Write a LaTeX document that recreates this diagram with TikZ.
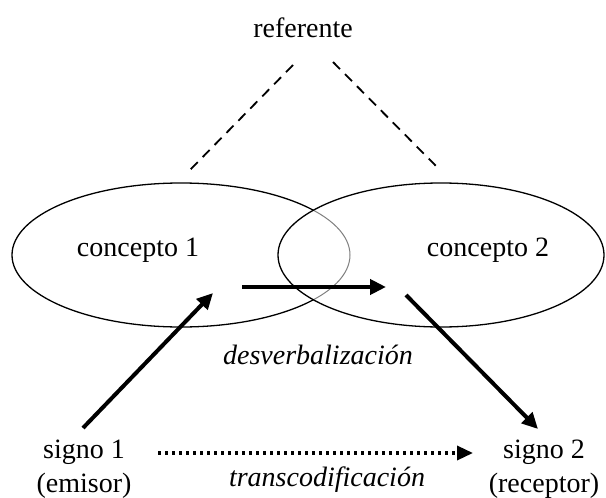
\documentclass[tikz,border=0pt]{standalone}
\usepackage{fontspec}
\setmainfont{Liberation Serif}
\usetikzlibrary{arrows.meta}
\begin{document}
\begin{tikzpicture}[x=1pt, y=-1pt, font=\fontsize{28}{34}\selectfont,
  elipse/.style={line width=1.3pt},
  flecha/.style={line width=4pt, -{Triangle[length=16pt,width=15pt]}},
  punteada/.style={line width=3.4pt, dash pattern=on 3pt off 4pt,
    -{Triangle[length=16pt,width=14pt]}},
  rayas/.style={line width=1.8pt, dash pattern=on 10pt off 7pt}]
    \useasboundingbox (0,0) rectangle (606,498);
    \coordinate (c1) at (181,255);
    \coordinate (c2) at (441,255);
    \def\rxuno{169}
    \def\rxdos{163}

    % elipses de los conceptos
    \draw[elipse] (c1) ellipse[x radius=\rxuno, y radius=72];
    \fill[white] (c2) ellipse[x radius=\rxdos, y radius=72];
    \begin{scope}
        \clip (c2) ellipse[x radius=\rxdos, y radius=72];
        \draw[color=gray, line width=1pt] (c1) ellipse[x radius=\rxuno, y radius=72];
    \end{scope}
    \draw[elipse] (c2) ellipse[x radius=\rxdos, y radius=72];

    \node (ref) at (303,28) {referente};
    \node (con1) at (138,250) {concepto 1};
    \node (con2) at (488,250) {concepto 2};
    \node[align=center] (sig1) at (84,469) {signo 1\\(emisor)};
    \node[align=center] (sig2) at (544,469) {signo 2\\(receptor)};
    \node (desv) at (318,355) {\itshape desverbalización};
    \node (trans) at (327,480) {\itshape transcodificación};

    % lineas al referente
    \coordinate (r1) at (293,65);
    \coordinate (r2) at (190,170);
    \coordinate (r3) at (333,62);
    \coordinate (r4) at (437,167);
    \draw[rayas] (r1) -- (r2);
    \draw[rayas] (r3) -- (r4);

    % flechas
    \coordinate (a1) at (83,428);
    \coordinate (a2) at (213,293);
    \coordinate (b1) at (242,287);
    \coordinate (b2) at (386,287);
    \coordinate (d1) at (406,295);
    \coordinate (d2) at (538,429);
    \coordinate (t1) at (158,453);
    \coordinate (t2) at (473,453);
    \draw[flecha] (a1) -- (a2);
    \draw[flecha] (b1) -- (b2);
    \draw[flecha] (d1) -- (d2);
    \draw[punteada] (t1) -- (t2);
\end{tikzpicture}
\end{document}
